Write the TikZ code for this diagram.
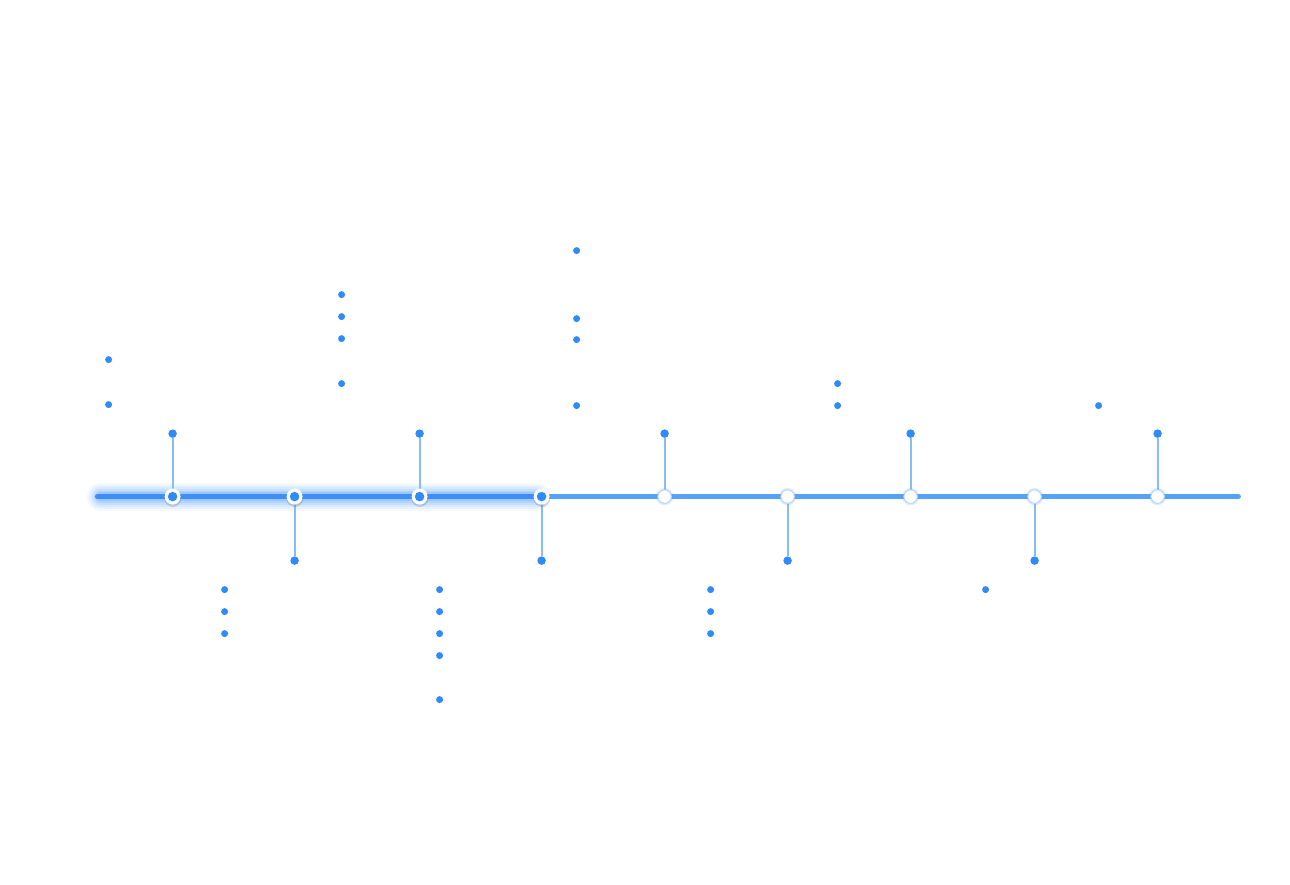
\documentclass[tikz,border=0pt]{standalone}
\usetikzlibrary{calc}
\definecolor{dotblue}{HTML}{2E8BFA}
\definecolor{lineblue}{HTML}{3D8EF7}
\definecolor{lineright}{HTML}{55A2F9}
\definecolor{stemblue}{HTML}{86BBFC}
\definecolor{glowblue}{HTML}{4A98FF}
\tikzset{
  pt/.style={circle,fill=dotblue,inner sep=0pt,minimum size=7pt},
  tip/.style={circle,fill=dotblue,inner sep=0pt,minimum size=8.5pt},
  stem/.style={draw=stemblue,line width=2pt},
  done/.style={circle,fill=white,inner sep=0pt,minimum size=16pt},
  donecore/.style={circle,fill=dotblue,inner sep=0pt,minimum size=9.5pt},
  todo/.style={circle,fill=white,draw=stemblue!60,line width=1pt,inner sep=0pt,minimum size=13.5pt},
}
\begin{document}
\begin{tikzpicture}[x=1pt,y=-1pt]
\useasboundingbox[fill=white] (0,0) rectangle (1290,884);
\begin{scope}[shift={(0.6,0.6)}]
% glow
\foreach \w/\o in {28/0.05,24/0.07,20/0.09,16/0.12,12/0.16,9/0.2}{
  \draw[glowblue,line width=\w pt,opacity=\o,line cap=round] (100,496) -- (536,496);
}
\coordinate (L0) at (97,496);
\coordinate (LM) at (541,496);
\coordinate (L1) at (1238,496);
\draw[lineright,line width=4.5pt,line cap=round] (LM) -- (L1);
\draw[lineblue,line width=5.5pt,line cap=round] (L0) -- (LM);
% stations
\foreach \n/\x/\ty in {1/172/433,2/294/560,3/419/433,4/541/560,
  5/664/433,6/787/560,7/910/433,8/1034/560,9/1157/433}{
  \node[tip] (t\n) at (\x,\ty) {};
  \coordinate (c\n) at (\x,496);
  \draw[stem] (c\n) -- (t\n);
}
\foreach \n/\x in {1/172,2/294,3/419,4/541}{
  \fill[black,opacity=0.14] (\x+0.3,498) circle (8.3pt);
  \node[done] (s\n) at (\x,496) {};
  \node[donecore] (k\n) at (s\n) {};
}
\foreach \n/\x in {5/664,6/787,7/910,8/1034,9/1157}{
  \fill[glowblue,opacity=0.18] (\x,496) circle (8.7pt);
  \node[todo] (s\n) at (\x,496) {};
}
% scattered dots
\foreach \x/\y [count=\i] in {108/359,108/404,
  341/294,341/316,341/338,341/383,
  576/250,576/318,576/339,576/405,
  837/383,837/405,1098/405,
  224/589,224/611,224/633,
  439/589,439/611,439/633,439/655,439/699,
  710/589,710/611,710/633,
  985/589}{
  \node[pt] (d\i) at (\x,\y) {};
}
\end{scope}
\end{tikzpicture}
\end{document}
